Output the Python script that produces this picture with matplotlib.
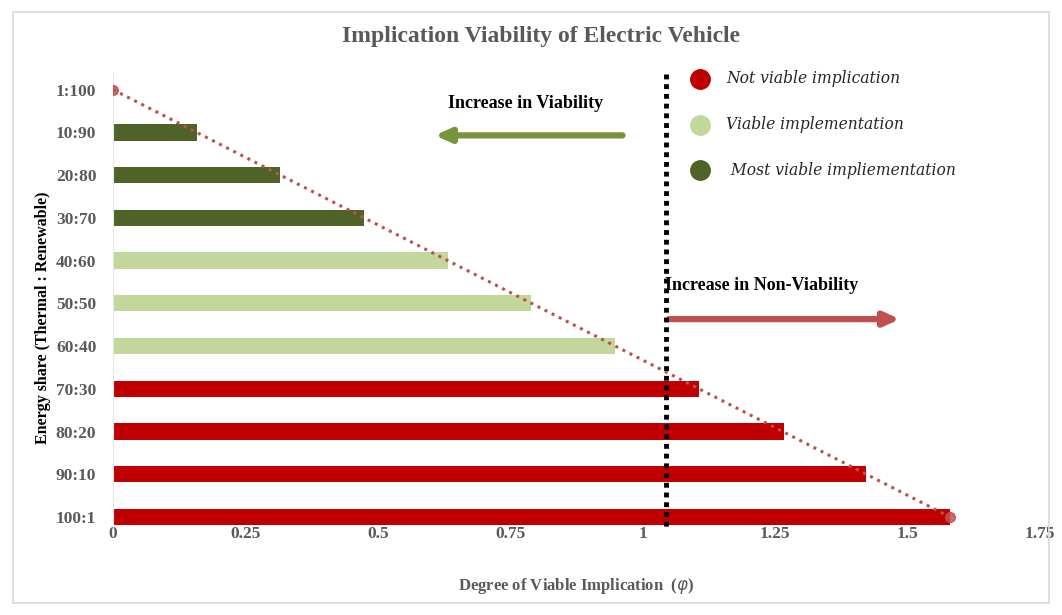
import matplotlib.pyplot as plt
from matplotlib.patches import Rectangle

ratios = ["1:100", "10:90", "20:80", "30:70", "40:60", "50:50",
          "60:40", "70:30", "80:20", "90:10", "100:1"]
phi = [0.0, 0.158, 0.316, 0.473, 0.632, 0.789, 0.948, 1.106, 1.266, 1.422, 1.58]
groups = ["none", "most", "most", "most", "viable", "viable",
          "viable", "not", "not", "not", "not"]
threshold = 1.044
xticks = [0, 0.25, 0.5, 0.75, 1, 1.25, 1.5, 1.75]
xtick_labels = ["0", "0.25", "0.5", "0.75", "1", "1.25", "1.5", "1.75"]

colors = {"not": "#C00000", "viable": "#C3D69B", "most": "#4F6228", "none": "none"}
legend_items = [("Not viable implication", "not"),
                ("Viable implementation", "viable"),
                (" Most viable impliementation", "most")]

SERIF = "Liberation Serif"
GRAY = "#595959"

fig = plt.figure(figsize=(10.62, 6.15), dpi=100)
fig.patches.append(Rectangle((0.012, 0.02), 0.976, 0.96, transform=fig.transFigure,
                             fill=False, edgecolor="#D9D9D9", lw=1.2))
ax = fig.add_axes([0.1064, 0.142, 0.873, 0.74])

ypos = list(range(len(ratios)))
for y, v, g in zip(ypos, phi, groups):
    if g != "none":
        ax.barh(y, v, height=0.38, color=colors[g], zorder=2)

# trend line with end markers
ax.plot([phi[0], phi[-1]], [ypos[0], ypos[-1]], color="#C0504D",
        lw=2.2, linestyle=(0, (1, 1.6)), zorder=3)
ax.plot([phi[0], phi[-1]], [ypos[0], ypos[-1]], "o", color="#C0504D",
        ms=7, zorder=4, alpha=0.85)

# threshold line
ax.plot([threshold, threshold], [-0.37, 10.25], color="black", lw=3.5,
        linestyle=(0, (1, 1)), zorder=5)

ax.set_xlim(0, 1.75)
ax.set_ylim(10.25, -0.4)
ax.set_yticks(ypos)
ax.set_yticklabels(ratios)
ax.set_xticks(xticks)
ax.set_xticklabels(xtick_labels)
ax.tick_params(length=0, pad=12, labelsize=12.5, labelcolor=GRAY)
ax.tick_params(axis="x", pad=-1)
for lab in ax.get_xticklabels() + ax.get_yticklabels():
    lab.set_fontfamily(SERIF)
    lab.set_fontweight("bold")
for s in ["top", "right", "bottom"]:
    ax.spines[s].set_visible(False)
ax.spines["left"].set_color("#E6E6E6")

ax.set_xlabel(r"Degree of Viable Implication  ($\varphi$)", fontfamily=SERIF,
              fontweight="bold", fontsize=12, color=GRAY, labelpad=24)
ax.set_ylabel("Energy share (Thermal : Renewable)", fontfamily=SERIF,
              fontweight="bold", fontsize=11.5, color="black")
ax.yaxis.set_label_coords(-0.067, 0.461)

fig.text(0.509, 0.941, "Implication Viability of Electric Vehicle", ha="center",
         va="center", fontfamily=SERIF, fontweight="bold", fontsize=17, color=GRAY)

# direction annotations
ax.text(0.778, 0.33, "Increase in Viability", ha="center", va="center",
        fontfamily=SERIF, fontweight="bold", fontsize=13)
ax.annotate("", xy=(0.602, 1.07), xytext=(0.967, 1.07),
            arrowprops=dict(arrowstyle="-|>,head_length=0.9,head_width=0.4",
                            color="#77933C", lw=4.5))
ax.text(1.225, 4.58, "Increase in Non-Viability", ha="center", va="center",
        fontfamily=SERIF, fontweight="bold", fontsize=13, zorder=6)
ax.annotate("", xy=(1.491, 5.37), xytext=(threshold, 5.37),
            arrowprops=dict(arrowstyle="-|>,head_length=0.9,head_width=0.4",
                            color="#C0504D", lw=4.5))

# legend drawn as markers and labels
for (label, g), ly in zip(legend_items, [-0.26, 0.82, 1.89]):
    ax.plot(1.108, ly, "o", color=colors[g], ms=14, clip_on=False, zorder=6)
    ax.text(1.157, ly, label, ha="left", va="center", fontfamily="DejaVu Serif",
            style="italic", fontsize=11.2, color="#262626")

fig.savefig("out.png", dpi=100)
